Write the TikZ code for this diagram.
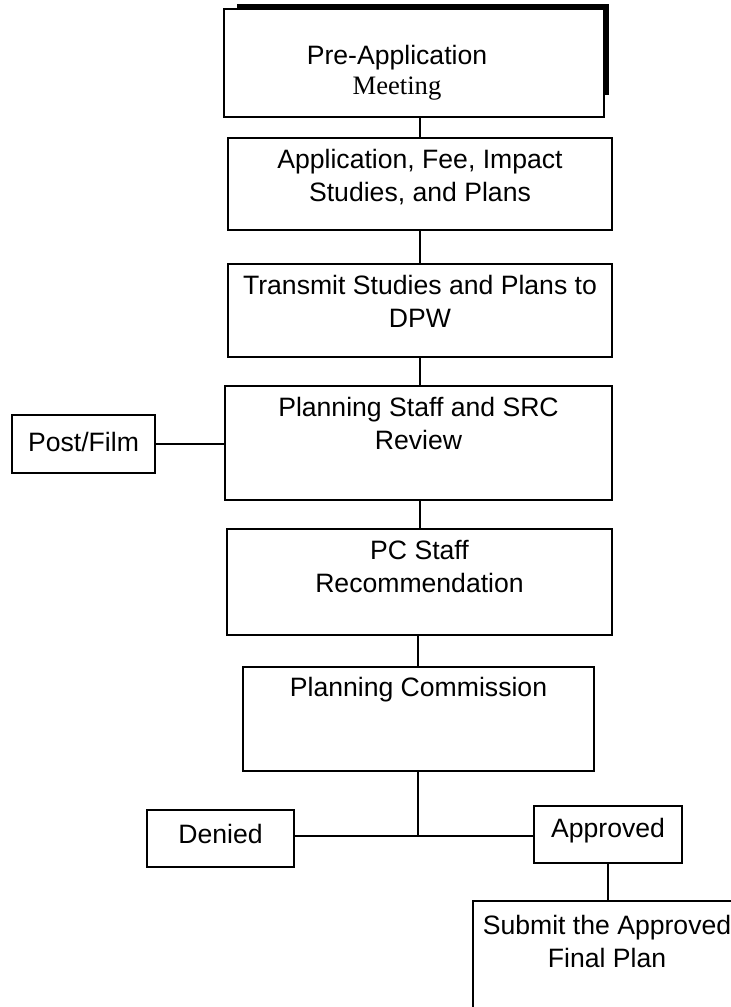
\documentclass[tikz,border=0pt]{standalone}
\usepackage{fontspec}
\setsansfont{Liberation Sans}
\newfontfamily\serifface{Liberation Serif}
\usetikzlibrary{fit}

\begin{document}
\begin{tikzpicture}[x=0.5pt, y=-0.5pt, line width=1.3pt,
    font=\sffamily\fontsize{13.3}{16.75}\selectfont,
    stage/.style={draw, inner sep=0pt},
    caption/.style={anchor=north, align=center, inner sep=0pt, yshift=-5.5pt}]
  \useasboundingbox (0,0) rectangle (731,1007);
  \clip (0,0) rectangle (731,1007);
  % main column
  \node[stage, fit={(224,9) (604,117)},
        label={[caption, yshift=-12.5pt, xshift=-8.5pt,
                font=\sffamily\fontsize{13.3}{15}\selectfont]
               north:{Pre-Application\\{\serifface Meeting}}}] (pre) {};
  \draw[line width=2.4pt] (237,6) -- (607,6) -- (607,95);
  \node[stage, fit={(228,138) (612,230)},
        label={[caption]north:{Application, Fee, Impact\\Studies, and Plans}}] (apply) {};
  \node[stage, fit={(228,264) (612,357)},
        label={[caption]north:{Transmit Studies and Plans to\\DPW}}] (transmit) {};
  \node[stage, fit={(225,386) (612,500)},
        label={[caption]north:{Planning Staff and SRC\\Review}}] (review) {};
  \node[stage, fit={(227,529) (612,635)},
        label={[caption]north:{PC Staff\\Recommendation}}] (pcstaff) {};
  \node[stage, fit={(243,667) (594,771)},
        label={[caption, yshift=0.5pt]north:{Planning Commission}}] (commission) {};
  % side boxes
  \node[stage, fit={(12,415) (155,473)},
        label={[caption, yshift=-3pt]north:{Post/Film}}] (post) {};
  \node[stage, fit={(147,810) (294,867)},
        label={[caption, yshift=-1.5pt]north:{Denied}}] (denied) {};
  \node[stage, fit={(534,806) (682,863)},
        label={[caption, yshift=-0.5pt]north:{Approved}}] (approved) {};
  \node[stage, fit={(473,901) (741,1040)},
        label={[caption, yshift=-1.5pt]north:{Submit the Approved\\Final Plan}}] (submit) {};
  \coordinate (split) at (418,836);
  % connectors
  \draw (apply.north) -- (apply.north |- pre.south);
  \draw (apply.south) -- (apply.south |- transmit.north);
  \draw (apply.south |- transmit.south) -- (apply.south |- review.north);
  \draw (apply.south |- review.south) -- (apply.south |- pcstaff.north);
  \draw (split |- pcstaff.south) -- (split |- commission.north);
  \draw (post.east) -- (post.east -| review.west);
  \draw (split |- commission.south) -- (split);
  \draw (denied.east |- split) -- (approved.west |- split);
  \draw (approved.south) -- (approved.south |- submit.north);
\end{tikzpicture}
\end{document}
